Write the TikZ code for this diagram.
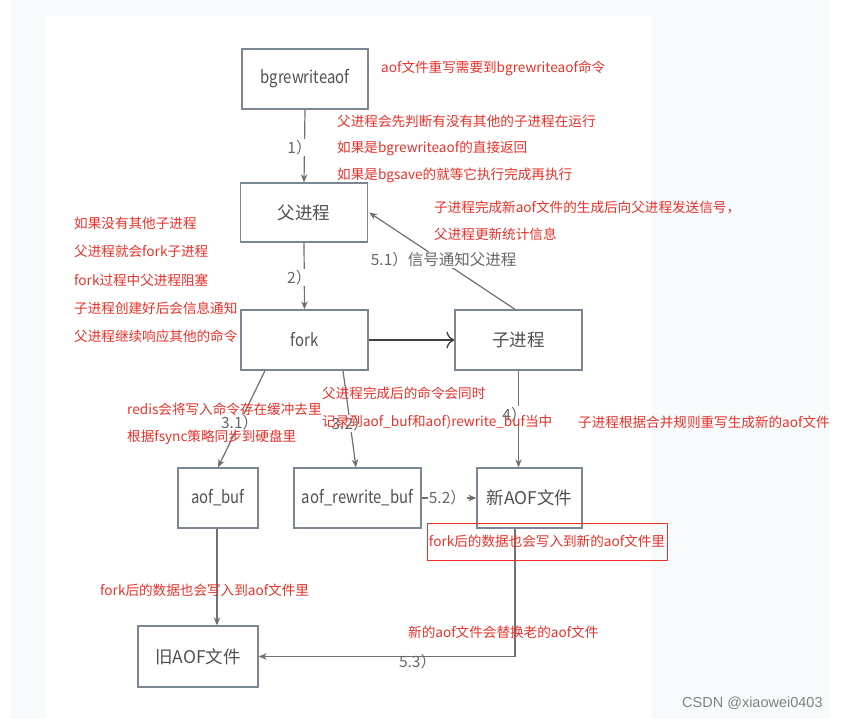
\documentclass[tikz,border=0pt]{standalone}
\usepackage{fontspec}
\setmainfont{Noto Sans CJK SC}
\newfontfamily\narrowfont{Noto Sans CJK SC}[FakeStretch=0.85]
\newfontfamily\wmfont{Liberation Sans}
\usetikzlibrary{arrows.meta}
\definecolor{redtxt}{HTML}{E8322A}
\definecolor{boxline}{HTML}{7D8793}
\definecolor{boxtxt}{HTML}{505050}
\definecolor{lblgray}{HTML}{666666}
\definecolor{arrowgray}{HTML}{707070}
\definecolor{tint}{HTML}{F8FBFC}
\tikzset{
  box/.style={draw=boxline, line width=1.3pt, fill=white, text=boxtxt,
    font=\fontsize{17.5}{20}\selectfont, inner sep=0pt},
  conn/.style={draw=arrowgray, line width=1.2pt, -{Stealth[length=8pt,width=6.5pt]}},
  thickconn/.style={draw=black!75, line width=2.4pt, -{To[length=8pt,width=17pt,line width=1.3pt]}},
  lbl/.style={text=lblgray, font=\fontsize{15.5}{17}\selectfont, fill=white, inner sep=1pt},
  lblclear/.style={text=lblgray, font=\fontsize{15.5}{17}\selectfont, inner sep=1pt},
  rednote/.style={anchor=west, text=redtxt, font=\fontsize{13.6}{16}\selectfont, inner sep=0pt},
}
\begin{document}
\begin{tikzpicture}[x=1pt,y=-1pt]
\useasboundingbox (0,0) rectangle (852,719);
\fill[white] (0,0) rectangle (852,719);
\fill[tint] (11,0) rectangle (830,719);
\fill[white] (46,16) rectangle (652,719);

% boxes
\node[box, minimum width=126, minimum height=60] (bgr) at (305,79) {\narrowfont bgrewriteaof};
\node[box, minimum width=127, minimum height=59] (parent) at (304,212.5) {父进程};
\node[box, minimum width=127, minimum height=60] (fork) at (304.5,340) {\narrowfont fork};
\node[box, minimum width=127, minimum height=60] (child) at (518.5,340) {子进程};
\node[box, minimum width=80, minimum height=60] (aofbuf) at (218,498) {\narrowfont aof\_buf};
\node[box, minimum width=127, minimum height=60] (rwbuf) at (357.5,498) {\narrowfont aof\_rewrite\_buf};
\node[box, minimum width=105, minimum height=60] (newaof) at (529.5,498) {新AOF文件};
\node[box, minimum width=120, minimum height=61] (oldaof) at (198,656.5) {旧AOF文件};

% connectors
\draw[conn] (bgr.south) -- (parent.north) node[lbl, pos=0.52, xshift=-5] (l1) {1）};
\draw[conn] (parent.south) -- (fork.north) node[lbl, pos=0.52, xshift=-5] (l2) {2）};
\draw[thickconn] (fork.east) -- (child.west);
\draw[conn] ([xshift=-3.5]child.north) -- ([xshift=1]parent.east)
  node[lbl, pos=0.51, xshift=3] (l51) {5.1）信号通知父进程};
\draw[conn] ([xshift=-39.5]fork.south) -- (aofbuf.north)
  node[lbl, pos=0.54] (l31) {3.1）};
\draw[conn] ([xshift=38.5]fork.south) -- ([xshift=-1.5]rwbuf.north)
  node[lbl, pos=0.55] (l32) {3.2）};
\draw[conn] (child.south) -- (child.south |- newaof.north)
  node[lbl, pos=0.45, xshift=-4] (l4) {4）};
\draw[conn] (rwbuf.east) -- (newaof.west)
  node[lbl, pos=0.47] (l52) {5.2）};
\draw[conn] ([xshift=-14.5]newaof.south) |- (oldaof.east)
  node[lblclear, pos=0.69, yshift=-5] (l53) {5.3）};
\draw[conn] ([xshift=-1]aofbuf.south) -- ([xshift=-1]aofbuf.south |- oldaof.north);

% red annotations
\node[rednote] (n1) at (381,68) {aof文件重写需要到bgrewriteaof命令};
\node[rednote] (n2a) at (337,121) {父进程会先判断有没有其他的子进程在运行};
\node[rednote] (n2b) at (337,148) {如果是bgrewriteaof的直接返回};
\node[rednote] (n2c) at (337,175) {如果是bgsave的就等它执行完成再执行};
\node[rednote] (n3a) at (434,207) {子进程完成新aof文件的生成后向父进程发送信号，};
\node[rednote] (n3b) at (434,234) {父进程更新统计信息};
\node[rednote] (n4a) at (74,223) {如果没有其他子进程};
\node[rednote] (n4b) at (74,251) {父进程就会fork子进程};
\node[rednote] (n4c) at (74,280) {fork过程中父进程阻塞};
\node[rednote] (n4d) at (74,308) {子进程创建好后会信息通知};
\node[rednote] (n4e) at (74,336) {父进程继续响应其他的命令};
\node[rednote] (n5a) at (127,409) {redis会将写入命令存在缓冲去里};
\node[rednote] (n5b) at (127,437) {根据fsync策略同步到硬盘里};
\node[rednote] (n6a) at (322,393) {父进程完成后的命令会同时};
\node[rednote] (n6b) at (322,422) {记录到aof\_buf和aof)rewrite\_buf当中};
\node[rednote] (n7) at (578,422) {子进程根据合并规则重写生成新的aof文件};
\node[rednote, anchor=center, draw=redtxt, line width=0.9pt,
  minimum width=240, minimum height=37] (n8) at (547,541.5) {fork后的数据也会写入到新的aof文件里};
\node[rednote] (n9) at (100,590) {fork后的数据也会写入到aof文件里};
\node[rednote] (n10) at (408,632) {新的aof文件会替换老的aof文件};

% watermark
\node[anchor=west, text=black!50, font=\wmfont\fontsize{14.5}{16}\selectfont, inner sep=0pt] (wm) at (682,703) {CSDN @xiaowei0403};
\end{tikzpicture}
\end{document}
